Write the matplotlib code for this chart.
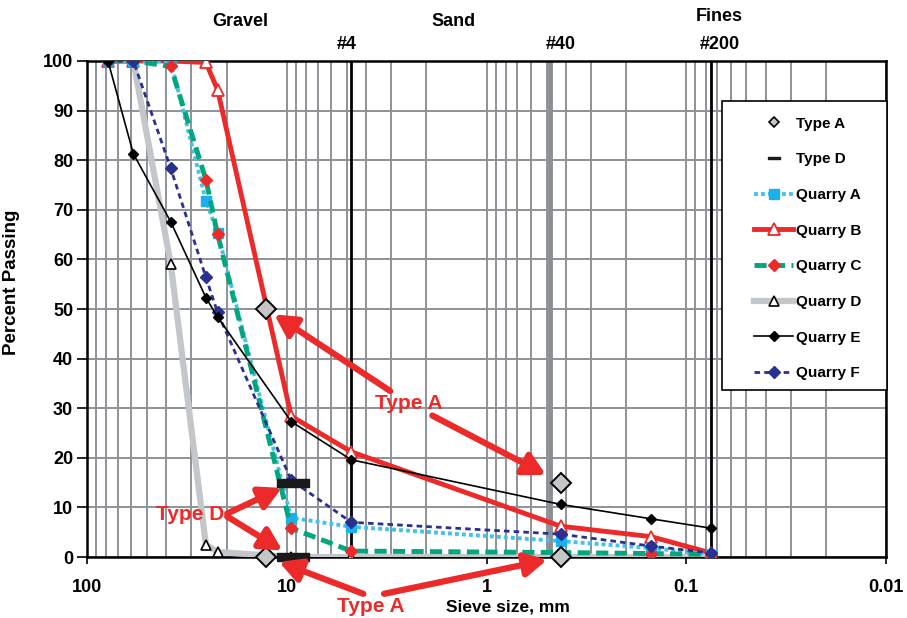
import numpy as np
import matplotlib
matplotlib.use("Agg")
import matplotlib.pyplot as plt
from matplotlib.lines import Line2D
from matplotlib.patches import Rectangle

plt.rcParams["font.family"] = ["Liberation Sans", "DejaVu Sans"]
plt.rcParams["font.weight"] = "bold"
plt.rcParams["axes.labelweight"] = "bold"

# sieve openings (mm) used for every quarry
sieve_mm = [78.5, 58.6, 38.1, 25.4, 22.2, 9.5, 4.75, 0.425, 0.15, 0.075]

quarry_a = [100, 100, 100, 71.8, 65.4, 7.9, 6.1, 3.2, 1.8, 0.5]
quarry_b = [100, 100, 100, 99.7, 94.2, 28.4, 21.2, 6.2, 4.1, 0.8]
quarry_c = [100, 100, 98.9, 76.1, 65.1, 5.8, 1.2, 0.9, 0.7, 0.5]
quarry_d = [100, 100, 59.1, 2.5, 1.0, 0.0, 0.0, 0.0, 0.0, 0.0]
quarry_e = [100, 81.3, 67.6, 52.3, 48.4, 27.3, 19.6, 10.6, 7.7, 5.8]
quarry_f = [100, 100, 78.4, 56.4, 49.3, 15.5, 7.0, 4.6, 2.2, 0.8]

# specification limits
type_a_mm = [12.7, 12.7, 0.425, 0.425]
type_a_pass = [50, 0, 15, 0]
type_d_mm = [9.3, 9.3]
type_d_pass = [15, 0]

# sieve reference lines
ref_mm = [4.75, 0.48, 0.075]
ref_labels = ["#4", "#40", "#200"]
ref_label_mm = [5.0, 0.425, 0.068]

zone_labels = ["Gravel", "Sand", "Fines"]
zone_mm = [17.1, 1.47, 0.068]

RED = "#ec2a2a"
GRID = "#8e9398"

fig = plt.figure(figsize=(9.07, 6.18), dpi=100)
ax = fig.add_axes([0.0959, 0.0987, 0.881, 0.8026])

ax.set_xscale("log")
ax.set_xlim(100, 0.01)
ax.set_ylim(0, 100)
ax.set_axisbelow(True)

ax.set_xticks([100, 10, 1, 0.1, 0.01], ["100", "10", "1", "0.1", "0.01"])
ax.set_yticks(np.arange(0, 101, 10))
ax.grid(True, which="both", axis="x", color=GRID, lw=1.4)
ax.grid(True, which="major", axis="y", color=GRID, lw=1.4)
ax.tick_params(axis="x", which="major", direction="out", length=5, width=1.2, labelsize=13, pad=11)
ax.tick_params(axis="y", which="major", direction="out", length=7, width=1.2, labelsize=13, pad=3)
ax.tick_params(which="minor", length=0)
for side in ["left", "bottom", "top", "right"]:
    ax.spines[side].set_linewidth(1.8)
    ax.spines[side].set_color("black")

# reference sieve lines
ax.axvline(ref_mm[0], color="black", lw=2, zorder=1.5)
ax.axvline(ref_mm[1], color="#8a8f94", lw=3.5, zorder=1.5)
ax.axvline(ref_mm[2], color="black", lw=2, zorder=1.5)

trans = ax.get_xaxis_transform()
for lbl, xm in zip(ref_labels, ref_label_mm):
    ax.text(xm, 1.034, lbl, transform=trans, ha="center", va="center", fontsize=13)
for lbl, xm, yy in zip(zone_labels, zone_mm, [1.079, 1.079, 1.089]):
    ax.text(xm, yy, lbl, transform=trans, ha="center", va="center", fontsize=13)

# quarries
ax.plot(sieve_mm, quarry_d, color="#c4c7ca", lw=4.5, marker="^", ms=7,
        mfc="white", mec="black", mew=1.2, label="Quarry D", zorder=3)
ax.plot(sieve_mm, quarry_a, color="#45c1ee", lw=2.8, ls=(0, (1, 0.8)), marker="s", ms=6.5,
        mfc="#1ab0ec", mec="#1ab0ec", label="Quarry A", zorder=3.2)
ax.plot(sieve_mm, quarry_c, color="#00a67e", lw=3.5, ls=(0, (2.5, 1.3)), marker="D", ms=6,
        mfc=RED, mec=RED, label="Quarry C", zorder=3.3)
ax.plot(sieve_mm, quarry_b, color=RED, lw=3.5, marker="^", ms=8,
        mfc="white", mec=RED, mew=1.3, label="Quarry B", zorder=3.1)
ax.plot(sieve_mm, quarry_f, color="#2b2f8f", lw=2, ls=(0, (2, 1.5)), marker="D", ms=6,
        mfc="#2b2f8f", mec="#2b2f8f", label="Quarry F", zorder=3.4)
ax.plot(sieve_mm, quarry_e, color="black", lw=1.2, marker="D", ms=5.5,
        mfc="black", mec="black", label="Quarry E", zorder=3.5)

bar = [(-2, -0.5), (2, -0.5), (2, 0.5), (-2, 0.5), (-2, -0.5)]
ax.plot(type_a_mm, type_a_pass, ls="none", marker="D", ms=10.5, mfc="#c4c6c8",
        mec="black", mew=1.4, zorder=5, clip_on=False)
ax.plot(type_d_mm, type_d_pass, ls="none", marker=bar, ms=23, mfc="#1a1a1a",
        mec="#1a1a1a", zorder=5, clip_on=False)

# red call-out arrows
arrow = dict(arrowstyle="-|>,head_length=0.65,head_width=0.35", color=RED, lw=4.5,
             mutation_scale=20, shrinkA=0)
txt_kw = dict(fontsize=15, ha="center", va="center", annotation_clip=False, zorder=6)

ax.annotate("Type A", xy=(type_a_mm[0], type_a_pass[0]), xytext=(2.45, 31), color=RED,
            arrowprops=dict(arrow, shrinkB=7), **txt_kw)
ax.annotate("Type A", xy=(type_a_mm[2], type_a_pass[2]), xytext=(2.45, 31), color="none",
            arrowprops=dict(arrow, shrinkB=12), **txt_kw)

ax.annotate("Type D", xy=(type_d_mm[0], type_d_pass[0]), xytext=(30.4, 8.5), color=RED,
            arrowprops=dict(arrow, shrinkB=9, relpos=(1, 0.5)), **txt_kw)
ax.annotate("Type D", xy=(type_d_mm[1], type_d_pass[1]), xytext=(30.4, 8.5), color="none",
            arrowprops=dict(arrow, shrinkB=9, relpos=(1, 0.5)), **txt_kw)

ax.annotate("Type A", xy=(type_a_mm[1], type_a_pass[1]), xytext=(3.8, -9.9), color=RED,
            arrowprops=dict(arrow, shrinkB=10, relpos=(0.5, 1)), **txt_kw)
ax.annotate("Type A", xy=(type_a_mm[3], type_a_pass[3]), xytext=(3.8, -9.9), color="none",
            arrowprops=dict(arrow, shrinkB=10, relpos=(0.5, 1)), **txt_kw)

ax.set_xlabel("Sieve size, mm", fontsize=12.5, fontweight="bold")
ax.set_ylabel("Percent Passing", fontsize=13.5, fontweight="bold")
ax.xaxis.set_label_coords(0.527, -0.0865)
ax.yaxis.set_label_coords(-0.084, 0.554)

# legend box
ax.add_patch(Rectangle((0.795, 0.337), 0.2065, 0.583, transform=ax.transAxes,
                       facecolor="white", edgecolor="black", lw=1.2, zorder=7, clip_on=False))
handles = [
    Line2D([], [], ls="none", marker="D", ms=5, mfc="#c4c6c8", mec="black", mew=1.2),
    Line2D([], [], ls="none", marker=bar, ms=8, mfc="#1a1a1a", mec="#1a1a1a"),
]
labels = ["Type A", "Type D"]
line_map = {l.get_label(): l for l in ax.get_lines()}
for name in ["Quarry A", "Quarry B", "Quarry C", "Quarry D", "Quarry E", "Quarry F"]:
    handles.append(line_map[name])
    labels.append(name)
leg = ax.legend(handles, labels, loc="center", bbox_to_anchor=(0.902, 0.622), frameon=False,
                fontsize=11, handlelength=2.5, handletextpad=0.2, labelspacing=1.42)
leg.set_zorder(8)

fig.savefig("out.png", dpi=100)
